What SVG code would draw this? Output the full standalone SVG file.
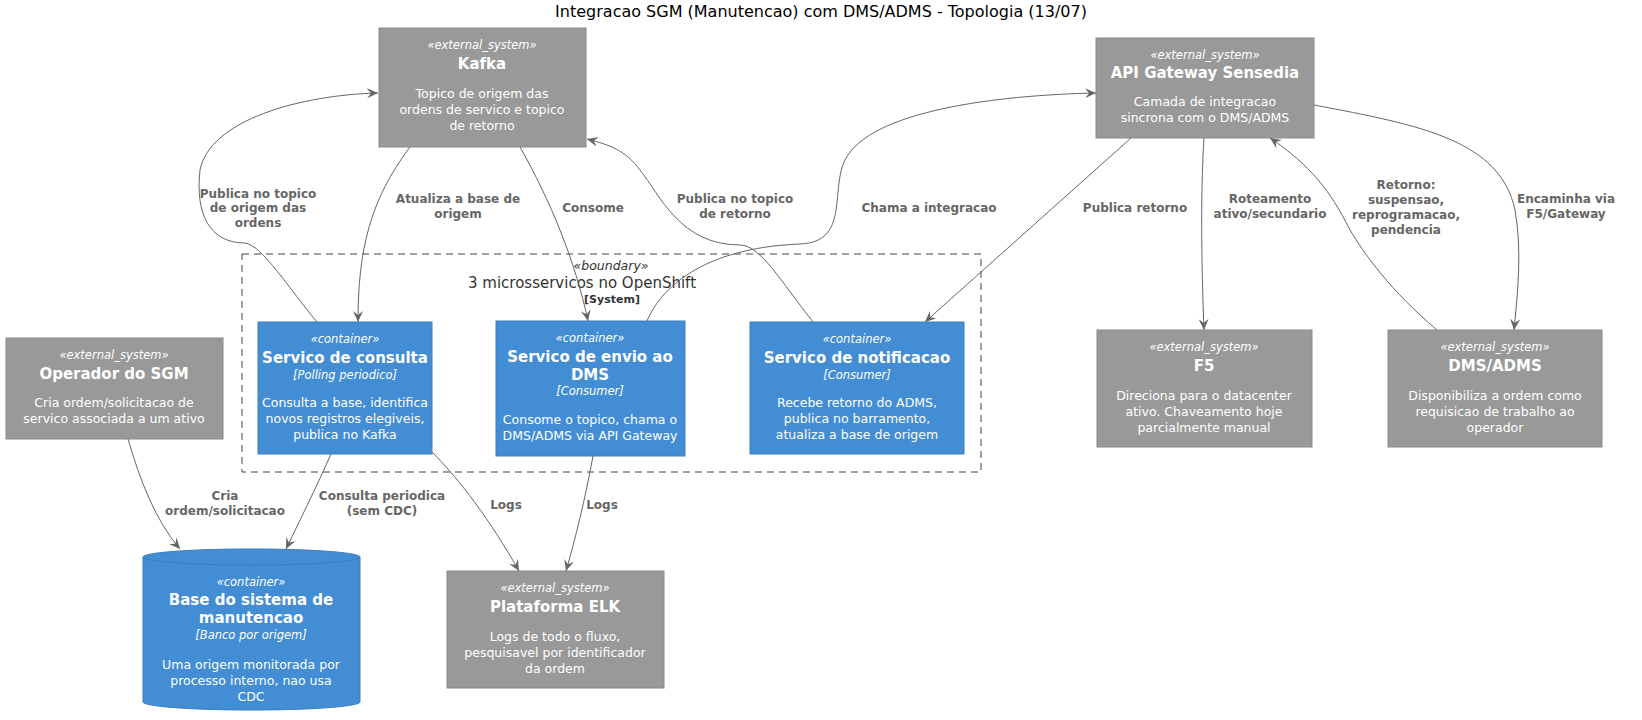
<svg xmlns="http://www.w3.org/2000/svg" width="1642" height="720" viewBox="0 0 1642 720">
<defs>
<marker id="ar" viewBox="0 0 12 10" refX="11" refY="5" markerWidth="12" markerHeight="10" orient="auto" markerUnits="userSpaceOnUse"><path d="M0,0 L11,5 L0,10 L4,5 Z" fill="#666"/></marker>
<style>
text{font-family:"DejaVu Sans","Liberation Sans",sans-serif;text-anchor:middle}
.ext{fill:#999999;stroke:#8A8A8A;stroke-width:1}
.con{fill:#438DD5;stroke:#3C7FC0;stroke-width:1}
.st{font-size:11.5px;font-style:italic;fill:#fff}
.nm{font-size:15px;font-weight:bold;fill:#fff}
.tc{font-size:11.5px;font-style:italic;fill:#fff}
.ds{font-size:12.5px;fill:#fff}
.e path{fill:none;stroke:#666;stroke-width:1;marker-end:url(#ar)}
.lb{font-size:12px;font-weight:bold;fill:#666}
</style>
</defs>
<rect width="1642" height="720" fill="#fff"/>
<text x="821" y="17" style="font-size:16px;fill:#000">Integracao SGM (Manutencao) com DMS/ADMS - Topologia (13/07)</text>

<g id="boundary">
<rect x="242" y="254" width="739" height="218" fill="none" stroke="#444" stroke-dasharray="7,5"/>
<text x="611" y="270" style="font-size:12.5px;font-style:italic;fill:#333">«boundary»</text>
<text x="582" y="288" style="font-size:15px;fill:#333">3 microsservicos no OpenShift</text>
<text x="612" y="303" style="font-size:11px;font-weight:bold;fill:#333">[System]</text>
</g>

<g id="kafka">
<rect class="ext" x="379" y="28" width="207" height="119"/>
<text class="st" x="482" y="49">«external_system»</text>
<text class="nm" x="482" y="69">Kafka</text>
<text class="ds" x="482" y="98">Topico de origem das</text>
<text class="ds" x="482" y="114">ordens de servico e topico</text>
<text class="ds" x="482" y="130">de retorno</text>
</g>
<g id="api">
<rect class="ext" x="1096" y="38" width="218" height="100"/>
<text class="st" x="1205" y="59">«external_system»</text>
<text class="nm" x="1205" y="78">API Gateway Sensedia</text>
<text class="ds" x="1205" y="106">Camada de integracao</text>
<text class="ds" x="1205" y="122">sincrona com o DMS/ADMS</text>
</g>
<g id="consulta">
<rect class="con" x="258" y="322" width="174" height="132"/>
<text class="st" x="345" y="343">«container»</text>
<text class="nm" x="345" y="363">Servico de consulta</text>
<text class="tc" x="345" y="379">[Polling periodico]</text>
<text class="ds" x="345" y="407">Consulta a base, identifica</text>
<text class="ds" x="345" y="423">novos registros elegiveis,</text>
<text class="ds" x="345" y="439">publica no Kafka</text>
</g>
<g id="envio">
<rect class="con" x="496" y="321" width="189" height="135"/>
<text class="st" x="590" y="342">«container»</text>
<text class="nm" x="590" y="362">Servico de envio ao</text>
<text class="nm" x="590" y="380">DMS</text>
<text class="tc" x="590" y="395">[Consumer]</text>
<text class="ds" x="590" y="424">Consome o topico, chama o</text>
<text class="ds" x="590" y="440">DMS/ADMS via API Gateway</text>
</g>
<g id="notificacao">
<rect class="con" x="750" y="322" width="214" height="132"/>
<text class="st" x="857" y="343">«container»</text>
<text class="nm" x="857" y="363">Servico de notificacao</text>
<text class="tc" x="857" y="379">[Consumer]</text>
<text class="ds" x="857" y="407">Recebe retorno do ADMS,</text>
<text class="ds" x="857" y="423">publica no barramento,</text>
<text class="ds" x="857" y="439">atualiza a base de origem</text>
</g>
<g id="operador">
<rect class="ext" x="6" y="338" width="217" height="101"/>
<text class="st" x="114" y="359">«external_system»</text>
<text class="nm" x="114" y="379">Operador do SGM</text>
<text class="ds" x="114" y="407">Cria ordem/solicitacao de</text>
<text class="ds" x="114" y="423">servico associada a um ativo</text>
</g>
<g id="f5">
<rect class="ext" x="1097" y="330" width="215" height="117"/>
<text class="st" x="1204" y="351">«external_system»</text>
<text class="nm" x="1204" y="371">F5</text>
<text class="ds" x="1204" y="400">Direciona para o datacenter</text>
<text class="ds" x="1204" y="416">ativo. Chaveamento hoje</text>
<text class="ds" x="1204" y="432">parcialmente manual</text>
</g>
<g id="dms">
<rect class="ext" x="1388" y="330" width="214" height="117"/>
<text class="st" x="1495" y="351">«external_system»</text>
<text class="nm" x="1495" y="371">DMS/ADMS</text>
<text class="ds" x="1495" y="400">Disponibiliza a ordem como</text>
<text class="ds" x="1495" y="416">requisicao de trabalho ao</text>
<text class="ds" x="1495" y="432">operador</text>
</g>
<g id="base">
<path class="con" d="M143,557 A108,8 0 0 1 360,557 L360,702 A108,8 0 0 1 143,702 Z"/>
<path d="M143,557 A108,8 0 0 0 360,557" fill="none" stroke="#3C7FC0"/>
<text class="st" x="251" y="586">«container»</text>
<text class="nm" x="251" y="605">Base do sistema de</text>
<text class="nm" x="251" y="623">manutencao</text>
<text class="tc" x="251" y="639">[Banco por origem]</text>
<text class="ds" x="251" y="669">Uma origem monitorada por</text>
<text class="ds" x="251" y="685">processo interno, nao usa</text>
<text class="ds" x="251" y="701">CDC</text>
</g>
<g id="elk">
<rect class="ext" x="447" y="571" width="217" height="117"/>
<text class="st" x="555" y="592">«external_system»</text>
<text class="nm" x="555" y="612">Plataforma ELK</text>
<text class="ds" x="555" y="641">Logs de todo o fluxo,</text>
<text class="ds" x="555" y="657">pesquisavel por identificador</text>
<text class="ds" x="555" y="673">da ordem</text>
</g>

<g id="connectors" class="e">
<path d="M317,322 C290,290 262,245 245,243 C210,243 195,215 200,170 C210,120 300,95 378,93"/>
<text class="lb" x="258" y="198">Publica no topico</text>
<text class="lb" x="258" y="212">de origem das</text>
<text class="lb" x="258" y="227">ordens</text>
<path d="M410,147 C370,200 358,250 358,322"/>
<text class="lb" x="458" y="203">Atualiza a base de</text>
<text class="lb" x="458" y="218">origem</text>
<path d="M520,147 C550,200 575,260 588,321"/>
<text class="lb" x="593" y="212">Consome</text>
<path d="M813,322 C780,280 760,245 740,245 C680,245 660,195 640,170 C625,150 610,145 587,139"/>
<text class="lb" x="735" y="203">Publica no topico</text>
<text class="lb" x="735" y="218">de retorno</text>
<path d="M647,321 C660,290 700,248 800,244 C850,242 830,190 845,160 C870,110 1000,95 1096,93"/>
<text class="lb" x="929" y="212">Chama a integracao</text>
<path d="M1131,138 L925,322"/>
<text class="lb" x="1135" y="212">Publica retorno</text>
<path d="M1204,138 C1200,200 1202,280 1204,330"/>
<text class="lb" x="1270" y="203">Roteamento</text>
<text class="lb" x="1270" y="218">ativo/secundario</text>
<path d="M1437,330 C1390,290 1365,255 1350,230 C1330,190 1310,165 1270,138"/>
<text class="lb" x="1406" y="189">Retorno:</text>
<text class="lb" x="1406" y="204">suspensao,</text>
<text class="lb" x="1406" y="219">reprogramacao,</text>
<text class="lb" x="1406" y="234">pendencia</text>
<path d="M1314,105 C1420,125 1500,140 1515,210 C1522,250 1518,290 1514,330"/>
<text class="lb" x="1566" y="203">Encaminha via</text>
<text class="lb" x="1566" y="218">F5/Gateway</text>
<path d="M128,439 C140,480 155,520 180,549"/>
<text class="lb" x="225" y="500">Cria</text>
<text class="lb" x="225" y="515">ordem/solicitacao</text>
<path d="M331,454 C315,490 300,520 286,549"/>
<text class="lb" x="382" y="500">Consulta periodica</text>
<text class="lb" x="382" y="515">(sem CDC)</text>
<path d="M432,452 C460,480 490,520 519,571"/>
<text class="lb" x="506" y="509">Logs</text>
<path d="M593,456 C585,500 575,540 566,571"/>
<text class="lb" x="602" y="509">Logs</text>
</g>
</svg>
